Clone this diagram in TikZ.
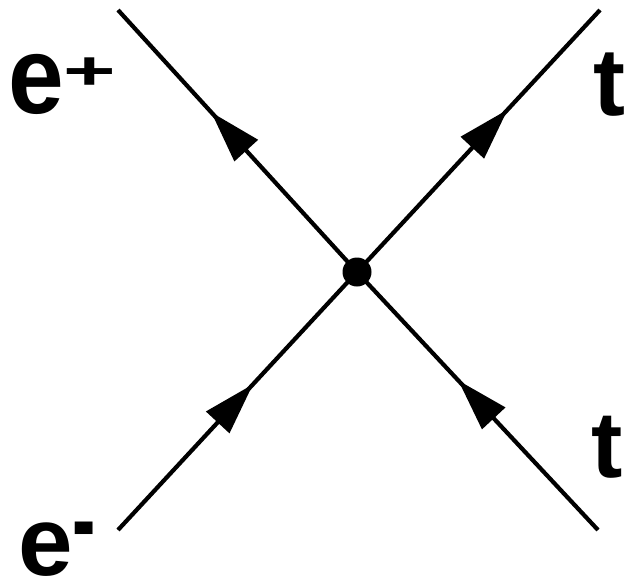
\documentclass[tikz,border=0pt]{standalone}
\usepackage{fontspec}
\setmainfont{Liberation Sans}
\usetikzlibrary{arrows.meta,decorations.markings}
\tikzset{
  fermion/.style={line width=4.2pt, postaction={decorate},
    decoration={markings, mark=at position #1 with {\arrow{Triangle[length=52pt,width=31pt]}}}},
  vertexdot/.style={circle, fill=black, inner sep=0pt, minimum size=29pt},
  lbl/.style={inner sep=0pt, anchor=base west, font=\bfseries}
}
\begin{document}
\begin{tikzpicture}[x=1pt,y=-1pt]
\useasboundingbox (0,0) rectangle (626,582);
\coordinate (vc) at (357,272);
\coordinate (ul) at (118,10);
\coordinate (ur) at (600,10);
\coordinate (ll) at (118,530);
\coordinate (lr) at (598,530);
\draw[fermion=0.61] (vc) -- (ul);
\draw[fermion=0.62] (vc) -- (ur);
\draw[fermion=0.565] (ll) -- (vc);
\draw[fermion=0.58] (lr) -- (vc);
\node[vertexdot] (v) at (vc) {};
\node[lbl] (eplus) at (8,113) {\scalebox{1}[1.1]{\fontsize{100}{100}\selectfont e}\raisebox{24pt}{\scalebox{1}[0.6]{\fontsize{90}{90}\selectfont +}}};
\node[lbl] (eminus) at (18,575) {\fontsize{98}{98}\selectfont e\raisebox{20pt}{\scalebox{1}[1.5]{\fontsize{70}{70}\selectfont -}}};
\node[lbl] (t1) at (593,115) {\fontsize{96}{96}\selectfont t};
\node[lbl] (t2) at (591,477) {\fontsize{94}{94}\selectfont t};
\end{tikzpicture}
\end{document}
